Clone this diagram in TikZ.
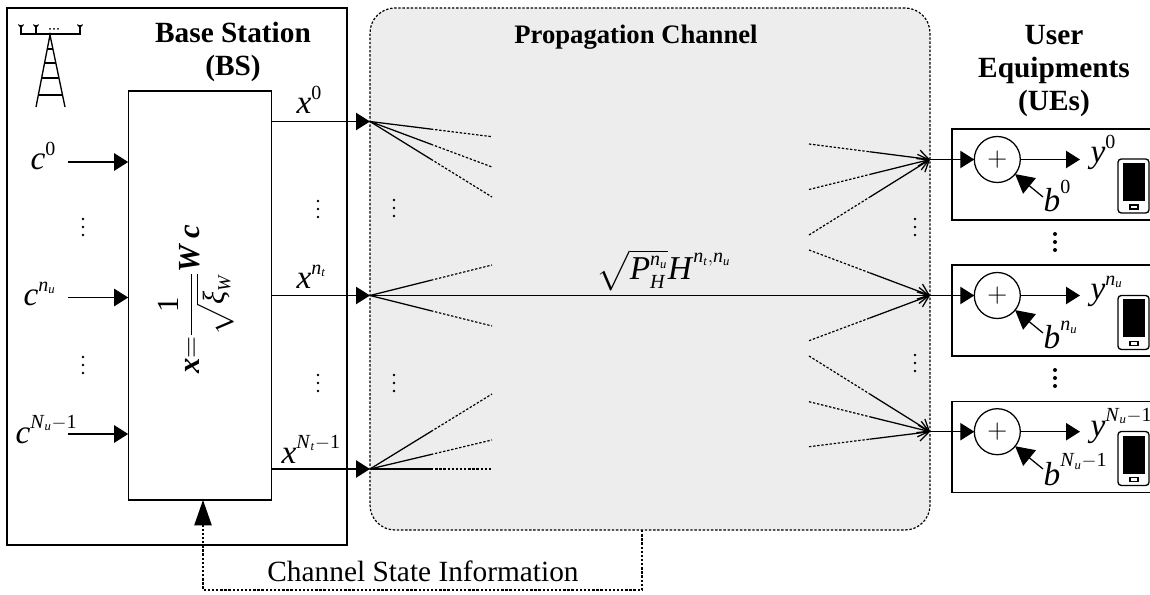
\documentclass[tikz,border=0pt]{standalone}
\usepackage{amsmath}
\usepackage{fontspec}
\setmainfont{Liberation Serif}
\usetikzlibrary{arrows.meta, calc}
\DeclareMathSizes{25}{25}{15}{9.5}

\newcommand{\mv}[1]{\text{\textit{#1}}}
\newcommand{\mb}[1]{\text{\textbf{\textit{#1}}}}
\newcommand{\up}[1]{^{\raisebox{2.2pt}{$\scriptstyle #1$}}}
\newcommand{\ray}[2]{\draw[raysolid] (#1) -- ($(#1)!.5!(#2)$); \draw[raydots] ($(#1)!.5!(#2)$) -- (#2);}
\newcommand{\rayin}[2]{\draw[raydots] (#1) -- ($(#1)!.5!(#2)$); \draw[raysolid, -{Straight Barb[length=7.5pt,width=12pt]}] ($(#1)!.5!(#2)$) -- (#2);}

\begin{document}
\begin{tikzpicture}[x = 0.75pt, y = -0.75pt, ->, >={Triangle[length=10.5pt,width=13pt]}, line width = 0.95pt]
        \tikzset{
            block/.style   = {draw, rectangle, outer sep = 0pt, inner sep = 0pt},
            arith/.style   = {draw, circle, minimum size = 34.5pt, outer sep = 0pt, inner sep = 0pt, font = \fontsize{22}{26}\selectfont},
            title/.style   = {align = center, font = \fontsize{22}{24.75}\selectfont\bfseries},
            sym/.style     = {anchor = base west, inner sep = 0pt, font = \fontsize{25}{30}\selectfont},
            vdots/.style   = {-, line width = 1.9pt, dash pattern = on 0pt off 6pt, line cap = round},
            bigdots/.style = {-, line width = 3pt, dash pattern = on 0pt off 6pt, line cap = round},
            raysolid/.style = {-, line width = 0.95pt},
            raydots/.style  = {-, line width = 0.9pt, dash pattern = on 1.8pt off 1.3pt},
            dotline/.style  = {line width = 0.9pt, dash pattern = on 1.8pt off 1.3pt},
            noise/.style    = {-{Triangle[length=14pt,width=15pt]}},
            phone/.pic = {
                \draw[-, rounded corners = 2.5pt, line width = 1pt] (0,0) rectangle (31,54);
                \fill (4.5,4) rectangle (27,42);
                \draw[-, line width = 0.9pt] (12,46) rectangle (20,50);
            }
        }
        \useasboundingbox (0,0) rectangle (1150,595);

        \node[block, minimum width = 255pt, minimum height = 402.75pt] (BS) at (177,276.5) {};
        \node[block, fill = white, minimum width = 107.25pt, minimum height = 306.75pt] (PRE) at (199.7,295.5) {};
        \node[block, fill = gray!14, dash pattern = on 1.8pt off 1.3pt, line width = 0.9pt, rounded corners = 18.75pt, minimum width = 420pt, minimum height = 391.5pt] (CH) at (650,269) {};

        \node[title] (BSLABEL) at (233,52) {Base Station\\(BS)};
        \node[title, font = \fontsize{20}{24}\selectfont\bfseries] (CHLABEL) at (636,37) {Propagation Channel};
        \node[title] (UELABEL) at (1054,71) {User\\Equipments\\(UEs)};
        \node[rotate = 90, scale = 0.92, font = \fontsize{25}{30}\selectfont] (PRECODE) at (196,299.5) {$\mb{x}{=}\dfrac{\text{1}}{\sqrt{\mv{ξ}_{\mv{W}}}}\mb{W}\,\mb{c}$};

        % antenna tower
        \draw[-, line width = 1pt] (21,25) -- (21,34) -- (80,34) -- (80,25);
        \draw[-, line width = 1pt] (36,34) -- (36,25);
        \draw[-, line width = 0.8pt] (18.5,24.5) -- (21,27.5) -- (23.5,24.5) (33.5,24.5) -- (36,27.5) -- (38.5,24.5) (77.5,24.5) -- (80,27.5) -- (82.5,24.5);
        \draw[vdots, line width = 1.5pt, dash pattern = on 0pt off 3pt] (50,29) -- (62,29);
        \draw[-, line width = 1pt] (36,107) -- (50,35) -- (65,107);
        \draw[-, line width = 1pt] (47.3,49) -- (52.7,49) (45,63) -- (55.7,63) (42,78) -- (59,78) (38,95) -- (62.5,95);

        % inputs
        \coordinate (C0) at (68,162);
        \coordinate (C1) at (68,297.5);
        \coordinate (C2) at (68,434);
        \node[sym] (C0LABEL) at (30,170) {$\mv{c}\up{\text{0}}$};
        \node[sym] (C1LABEL) at (23,306) {$\mv{c}\up{\mv{n}_{\mv{u}}}$};
        \node[sym] (C2LABEL) at (15,443) {$\mv{c}\up{\mv{N}_{\mv{u}}{-}\text{1}}$};
        \draw[->] (C0) -- (C0 -| PRE.west);
        \draw[->] (C1) -- (C1 -| PRE.west);
        \draw[->] (C2) -- (C2 -| PRE.west);
        \draw[vdots] (83,219) -- (83,235.2);
        \draw[vdots] (83,357) -- (83,373.2);

        % transmit side
        \coordinate (TX0) at (370,121.5);
        \coordinate (TX1) at (370,295.5);
        \coordinate (TX2) at (370,469);
        \node[sym] (X0LABEL) at (296,114) {$\mv{x}\up{\text{0}}$};
        \node[sym] (X1LABEL) at (296,289) {$\mv{x}\up{\mv{n}_{\mv{t}}}$};
        \node[sym] (X2LABEL) at (281,463) {$\mv{x}\up{\mv{N}_{\mv{t}}{-}\text{1}}$};
        \draw[->] (TX0 -| PRE.east) -- (TX0);
        \draw[->] (TX1 -| PRE.east) -- (TX1);
        \draw[->] (TX2 -| PRE.east) -- (TX2);
        \draw[vdots] (318,201) -- (318,217.2);
        \draw[vdots] (318,375) -- (318,391.2);
        \draw[vdots] (394,200) -- (394,216.2);
        \draw[vdots] (394,375) -- (394,391.2);
        \draw[vdots] (915,219) -- (915,235.2);
        \draw[vdots] (915,355) -- (915,371.2);

        % channel paths
        \coordinate (A0) at (492,136.7);
        \coordinate (A1) at (492,167);
        \coordinate (A2) at (492,197);
        \coordinate (A3) at (492,265);
        \coordinate (A4) at (492,326);
        \coordinate (A5) at (492,394);
        \coordinate (A6) at (492,440);
        \coordinate (A7) at (492,469);
        \coordinate (B0) at (809,144);
        \coordinate (B1) at (809,189.5);
        \coordinate (B2) at (809,235);
        \coordinate (B3) at (809,250);
        \coordinate (B4) at (809,340.7);
        \coordinate (B5) at (809,356);
        \coordinate (B6) at (809,401.7);
        \coordinate (B7) at (809,446.7);
        \coordinate (RX0) at (930,159.5);
        \coordinate (RX1) at (930,295.5);
        \coordinate (RX2) at (930,431.7);
        \ray{TX0}{A0}
        \ray{TX0}{A1}
        \ray{TX0}{A2}
        \ray{TX1}{A3}
        \ray{TX1}{A4}
        \ray{TX2}{A5}
        \ray{TX2}{A6}
        \ray{TX2}{A7}
        \rayin{B0}{RX0}
        \rayin{B1}{RX0}
        \rayin{B2}{RX0}
        \rayin{B3}{RX1}
        \rayin{B4}{RX1}
        \rayin{B5}{RX2}
        \rayin{B6}{RX2}
        \rayin{B7}{RX2}
        \draw[raysolid, -{Straight Barb[length=7.5pt,width=12pt]}] (TX1) to (RX1);
        \node[sym] (HLABEL) at (596,280) {$\sqrt{\mv{P}_{\mv{H}}^{\mv{n}_{\mv{u}}}}\mv{H}\up{\mv{n}_{\mv{t}},\mv{n}_{\mv{u}}}$};

        % user equipments
        \node[block, minimum width = 150pt, minimum height = 68.25pt] (UE0) at (1052,174.5) {};
        \node[block, minimum width = 150pt, minimum height = 68.25pt] (UE1) at (1052,310.5) {};
        \node[block, minimum width = 150pt, minimum height = 68.25pt] (UE2) at (1052,446.7) {};
        \node[arith] (ADD0) at (997.3,159.5) {$+$};
        \node[arith] (ADD1) at (997.3,295.5) {$+$};
        \node[arith] (ADD2) at (997.3,431.7) {$+$};

        \coordinate (Y0) at (1080,159.5);
        \coordinate (Y1) at (1080,295.5);
        \coordinate (Y2) at (1080,431.7);
        \coordinate (N0) at (1043,197);
        \coordinate (N1) at (1043,333);
        \coordinate (N2) at (1043,469);
        \node[sym] (Y0LABEL) at (1090,163) {$\mv{y}\up{\text{0}}$};
        \node[sym] (Y1LABEL) at (1090,300) {$\mv{y}\up{\mv{n}_{\mv{u}}}$};
        \node[sym] (Y2LABEL) at (1090,436) {$\mv{y}\up{\mv{N}_{\mv{u}}{-}\text{1}}$};
        \node[sym] (B0LABEL) at (1043,212) {$\mv{b}\up{\text{0}}$};
        \node[sym] (B1LABEL) at (1043,349) {$\mv{b}\up{\mv{n}_{\mv{u}}}$};
        \node[sym] (B2LABEL) at (1043,485) {$\mv{b}\up{\mv{N}_{\mv{u}}{-}\text{1}}$};

        \draw[->] (RX0) -- (ADD0);
        \draw[->] (RX1) -- (ADD1);
        \draw[->] (RX2) -- (ADD2);
        \draw[->] (ADD0) -- (Y0);
        \draw[->] (ADD1) -- (Y1);
        \draw[->] (ADD2) -- (Y2);
        \draw[noise] (N0) -- (ADD0);
        \draw[noise] (N1) -- (ADD1);
        \draw[noise] (N2) -- (ADD2);

        \pic (PHONE0) at (1118,159) {phone};
        \pic (PHONE1) at (1118,295.5) {phone};
        \pic (PHONE2) at (1118,431.5) {phone};

        \draw[bigdots] (1055,234) -- (1055,250.2);
        \draw[bigdots] (1055,370) -- (1055,386.2);

        % feedback
        \coordinate (FB0) at (642,590);
        \coordinate (FB1) at (203,590);
        \node[font = \fontsize{22}{26}\selectfont] (CSI) at (423,571) {Channel State Information};
        \draw[dotline, -{Triangle[length=19pt,width=13pt]}] (FB0 |- CH.south) -- (FB0) -- (FB1) -- (FB1 |- PRE.south);
\end{tikzpicture}
\end{document}
